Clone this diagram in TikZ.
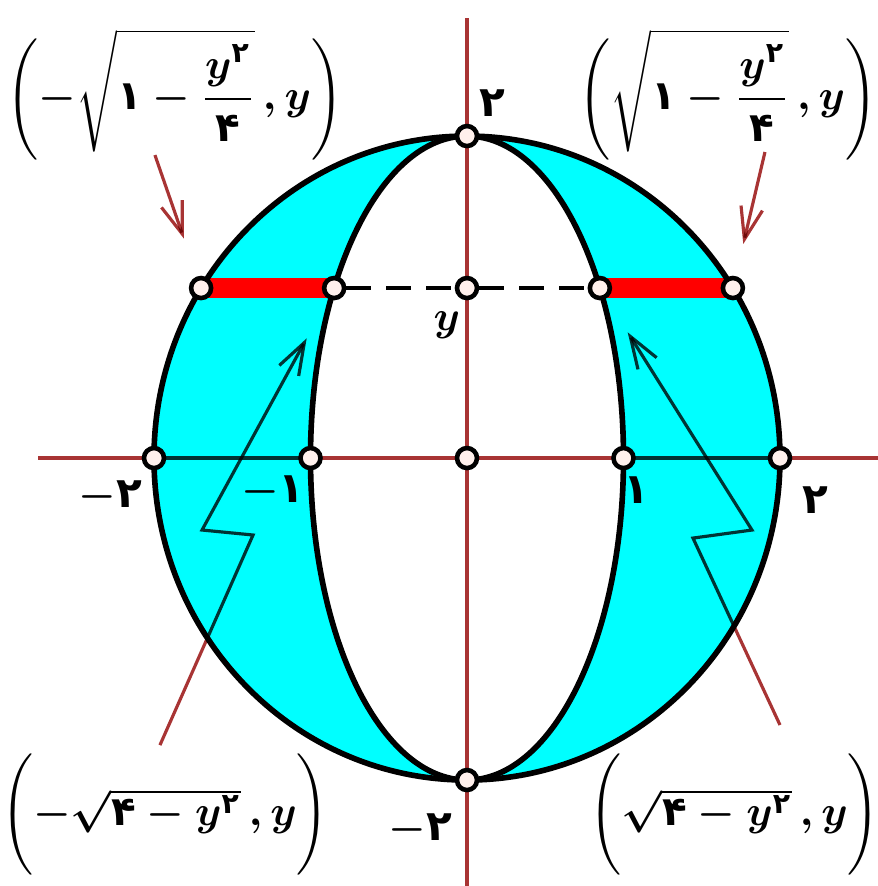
\documentclass[tikz,border=0pt]{standalone}
\usepackage{amsmath,amssymb}
\usepackage{fontspec}
\newfontfamily\arabicfont[Script=Arabic]{DejaVu Sans}
\usepackage{tikz}
\usetikzlibrary{positioning,arrows.meta,calc}
\definecolor{ring}{HTML}{00FFFF}
\definecolor{axisred}{HTML}{A83434}
\definecolor{barred}{HTML}{FF0000}
\definecolor{ptfill}{HTML}{FFF0EC}
\newcommand{\fa}[1]{\text{\arabicfont #1}}

\begin{document}
\begin{tikzpicture}[x=1.565cm,y=1.61cm,font=\bfseries\boldmath\large,
  pt/.style={circle,draw=black,fill=ptfill,line width=1.3pt,inner sep=0pt,minimum size=0.2cm},
  lbl/.style={inner sep=1pt},
  formula/.style={inner sep=0pt,font=\bfseries\boldmath\fontsize{11.5}{14}\selectfont},
  pointer/.style={draw=axisred,line width=0.9pt,blend mode=multiply,-{Straight Barb[length=3.2mm,width=2.2mm]}}]
\useasboundingbox (-2.984,-2.658) rectangle (2.626,2.845);
\fill[ring,even odd rule] (0,0) ellipse (2 and 2) (0,0) ellipse (1 and 2);
\fill[barred] (-1.699,0.994) rectangle (-0.849,1.118);
\fill[barred] (0.849,0.994) rectangle (1.699,1.118);
\draw[axisred,line width=1pt,blend mode=multiply] (-2.741,0) -- (2.626,0);
\draw[axisred,line width=1pt,blend mode=multiply] (0,-2.658) -- (0,2.733);
\draw[line width=1.6pt] (0,0) ellipse (2 and 2);
\draw[line width=1.6pt] (0,0) ellipse (1 and 2);
\node[pt] (o) at (0,0) {};
\node[pt] (top) at (0,2) {};
\node[pt] (bot) at (0,-2) {};
\foreach \n/\x in {xl2/-2,xl1/-1,xr1/1,xr2/2}{
  \node[pt] (\n) at (\x,0) {};
}
\foreach \n/\x in {outl/-1.699,inl/-0.849,yc/0,inr/0.849,outr/1.699}{
  \node[pt] (\n) at (\x,1.056) {};
}
\draw[line width=1.2pt,dash pattern=on 0.25cm off 0.15cm] (inl) -- (yc) -- (inr);
\node[lbl] at (0.160,2.205) {\fa{۲}};
\node[lbl] at (-0.300,-2.311) {$-$\fa{۲}};
\node[lbl] at (-2.281,-0.242) {$-$\fa{۲}};
\node[lbl] at (-1.24,-0.21) {$-$\fa{۱}};
\node[lbl] at (1.08,-0.199) {\fa{۱}};
\node[lbl] at (2.224,-0.261) {\fa{۲}};
\node[lbl] at (-0.128,0.826) {$y$};
\node[formula] (ltop) at (-1.866,2.25) {$\Biggl(-\sqrt{\fa{۱}-\dfrac{y^{\fa{۲}}}{\fa{۴}}}\,,y\Biggr)$};
\node[formula] (rtop) at (1.668,2.25) {$\Biggl(\sqrt{\fa{۱}-\dfrac{y^{\fa{۲}}}{\fa{۴}}}\,,y\Biggr)$};
\node[formula] (lbot) at (-1.930,-2.217) {$\Biggl(-\sqrt{\fa{۴}-y^{\fa{۲}}}\,,y\Biggr)$};
\node[formula] (rbot) at (1.712,-2.217) {$\Biggl(\sqrt{\fa{۴}-y^{\fa{۲}}}\,,y\Biggr)$};
\coordinate (tlfrom) at (-1.994,1.882);
\coordinate (trfrom) at (1.904,1.901);
\draw[pointer,shorten >=0.4cm] (tlfrom) -- (outl);
\draw[pointer,shorten >=0.33cm] (trfrom) -- (outr);
\coordinate (lfa) at (-1.962,-1.783);
\coordinate (lfb) at (-1.367,-0.478);
\coordinate (lfc) at (-1.693,-0.447);
\coordinate (rfa) at (2.0,-1.658);
\coordinate (rfb) at (1.444,-0.497);
\coordinate (rfc) at (1.821,-0.447);
\draw[pointer,shorten >=0.45cm] (lfa) -- (lfb) -- (lfc) -- (inl);
\draw[pointer,shorten >=0.4cm] (rfa) -- (rfb) -- (rfc) -- (inr);
\end{tikzpicture}
\end{document}
